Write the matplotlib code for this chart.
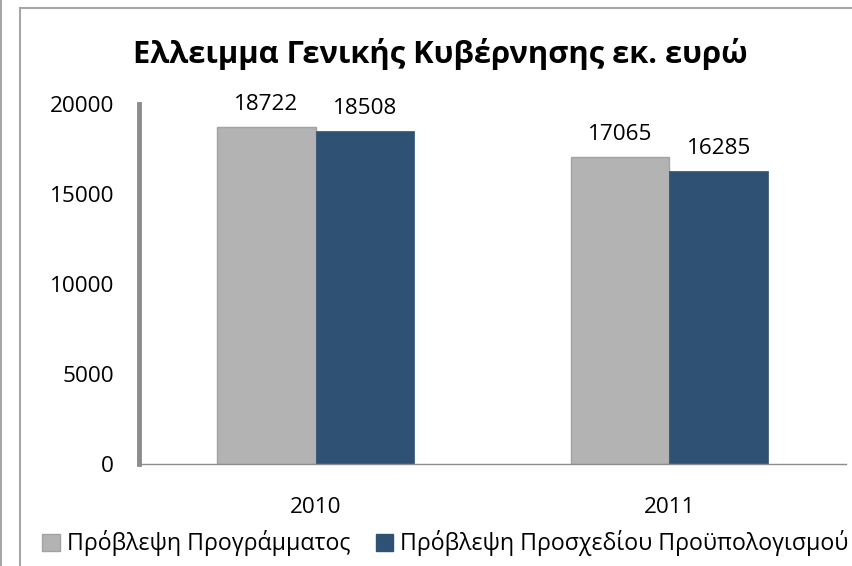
import matplotlib
matplotlib.use("Agg")
from matplotlib import pyplot as plt
from matplotlib.lines import Line2D
from matplotlib.patches import Patch
import numpy as np

years = ["2010", "2011"]
programme = [18722, 17065]
draft_budget = [18508, 16285]
series_names = ["Πρόβλεψη Προγράμματος", "Πρόβλεψη Προσχεδίου Προϋπολογισμού"]
y_ticks = [0, 5000, 10000, 15000, 20000]
title = "Ελλειμμα Γενικής Κυβέρνησης εκ. ευρώ"

plt.rcParams['font.family'] = ['Open Sans', 'DejaVu Sans']

GREY = '#b3b3b3'
NAVY = '#2f5274'

fig = plt.figure(figsize=(8.53, 5.66), dpi=100)
ax = fig.add_axes([0.163, 0.180, 0.829, 0.636])

x = np.arange(len(years))
w = 0.279
bars_a = ax.bar(x - w / 2, programme, w, color=GREY, edgecolor='#a2a2a2', lw=1)
bars_b = ax.bar(x + w / 2, draft_budget, w, color=NAVY, edgecolor=NAVY, lw=0.5)

for bars in (bars_a, bars_b):
    for b in bars:
        ax.annotate(f"{int(b.get_height())}", (b.get_x() + b.get_width() / 2, b.get_height()),
                    xytext=(0, 8.5), textcoords='offset points', ha='center', va='bottom',
                    fontsize=16.2, color='black')

ax.set_xlim(-0.5, 1.5)
ax.set_ylim(0, 20000)
ax.set_yticks(y_ticks)
ax.set_xticks(x)
ax.set_xticklabels(years)
ax.tick_params(axis='both', length=0, labelsize=16.2, colors='black')
ax.tick_params(axis='y', pad=18)
ax.tick_params(axis='x', pad=24)

for s in ['top', 'right']:
    ax.spines[s].set_visible(False)
ax.spines['left'].set_color('#8c8c8c')
ax.spines['left'].set_linewidth(3.5)
ax.spines['bottom'].set_color('#8c8c8c')
ax.spines['bottom'].set_linewidth(1)

fig.text(0.516, 0.889, title, fontsize=22.2, fontweight='bold', ha='center', va='baseline')

handles = [Patch(facecolor=GREY, edgecolor='#a2a2a2'), Patch(facecolor=NAVY, edgecolor=NAVY)]
fig.legend(handles, series_names, loc='center', bbox_to_anchor=(0.522, 0.040), ncol=2,
           frameon=False, fontsize=16.7, handlelength=0.75, handleheight=0.75,
           handletextpad=0.3, columnspacing=1.1, borderaxespad=0)

# chart frame
fig.add_artist(Line2D([0.0235, 0.0235], [0, 0.986], color='#a6a6a6', lw=1.5))
fig.add_artist(Line2D([0.0235, 1.0], [0.986, 0.986], color='#a6a6a6', lw=1.5))
fig.add_artist(Line2D([0.0015, 0.0015], [0, 1], color='#a6a6a6', lw=1.5))

fig.savefig("out.png", dpi=100)
